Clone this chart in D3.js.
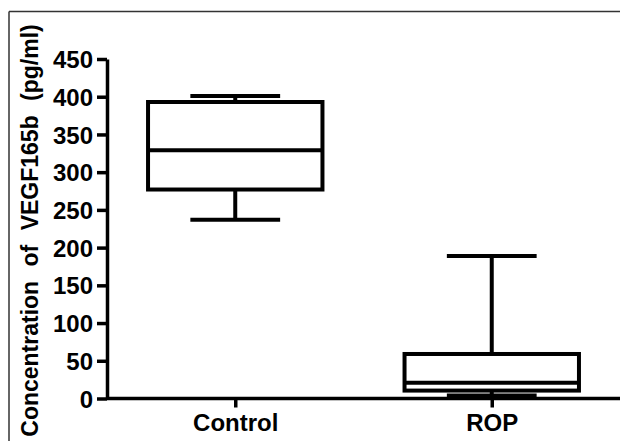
<!DOCTYPE html>
<html>
<head>
<meta charset="utf-8">
<script src="https://cdn.jsdelivr.net/npm/d3@7"></script>
<style>
body { margin: 0; background: #fff; }
svg { display: block; font-family: "Liberation Sans", Arial, sans-serif; font-weight: bold; }
.axis path, .axis line { stroke: #000; stroke-width: 3.5; }
.axis text { fill: #000; }
.box { fill: none; stroke: #000; stroke-width: 4; }
</style>
</head>
<body>
<script>
const width = 620, height = 441;
const plotLeft = 107, plotTop = 59, plotBottom = 398.5, plotRight = 620;

const categories = ["Control", "ROP"];
const mins    = [237, 4];
const q1s     = [277, 10.5];
const medians = [329, 21];
const q3s     = [393, 59];
const maxs    = [401, 189];
const yTicks  = [0, 50, 100, 150, 200, 250, 300, 350, 400, 450];

const svg = d3.select("body").append("svg")
.attr("width", width)
.attr("height", height);

// frame edges
svg.append("line").attr("x1", 9).attr("y1", 11.5).attr("x2", width).attr("y2", 11.5)
.attr("stroke", "#333").attr("stroke-width", 1.5);
svg.append("line").attr("x1", 9).attr("y1", 11.5).attr("x2", 9).attr("y2", height)
.attr("stroke", "#333").attr("stroke-width", 1.5);

const x = d3.scalePoint()
.domain(categories)
.range([plotLeft, plotRight])
.padding(0.5);

const y = d3.scaleLinear()
.domain([0, 450])
.range([plotBottom, plotTop]);

const axisY = d3.axisLeft(y).tickValues(yTicks).tickSize(10).tickPadding(4).tickSizeOuter(0);
const axisX = d3.axisBottom(x).tickSize(9).tickPadding(6).tickSizeOuter(0);

svg.append("g")
.attr("class", "axis axisY")
.attr("transform", `translate(${plotLeft},0)`)
.call(axisY)
.call(g => g.selectAll("text").attr("font-size", 24).attr("dy", "0.36em"));

svg.append("g")
.attr("class", "axis axisX")
.attr("transform", `translate(0,${plotBottom})`)
.call(axisX)
.call(g => g.select(".domain").attr("d", `M${plotLeft},0H${plotRight}`))
.call(g => g.selectAll("text").attr("font-size", 24));

svg.append("text")
.attr("transform", `translate(38,${(23 + 438) / 2}) rotate(-90)`)
.attr("text-anchor", "middle")
.attr("font-size", 23)
.attr("word-spacing", 8)
.text("Concentration of VEGF165b (pg/ml)");

const boxW = x.step() * 0.68;
const capW = x.step() * 0.35;

const data = categories.map((c, i) => ({
  c, min: mins[i], q1: q1s[i], med: medians[i], q3: q3s[i], max: maxs[i]
}));

const g = svg.append("g");

data.forEach(d => {
  const cx = x(d.c);
  // whiskers
  g.append("line").attr("class", "box")
  .attr("x1", cx).attr("x2", cx).attr("y1", y(d.q3)).attr("y2", y(d.max));
  g.append("line").attr("class", "box")
  .attr("x1", cx).attr("x2", cx).attr("y1", y(d.q1)).attr("y2", y(d.min));
  g.append("line").attr("class", "box")
  .attr("x1", cx - capW / 2).attr("x2", cx + capW / 2).attr("y1", y(d.max)).attr("y2", y(d.max));
  g.append("line").attr("class", "box")
  .attr("x1", cx - capW / 2).attr("x2", cx + capW / 2).attr("y1", y(d.min)).attr("y2", y(d.min));
  // box
  g.append("rect").attr("class", "box")
  .attr("x", cx - boxW / 2).attr("width", boxW)
  .attr("y", y(d.q3)).attr("height", y(d.q1) - y(d.q3))
  .attr("fill", "#fff");
  g.append("line").attr("class", "box")
  .attr("x1", cx - boxW / 2).attr("x2", cx + boxW / 2).attr("y1", y(d.med)).attr("y2", y(d.med));
});
</script>
</body>
</html>
